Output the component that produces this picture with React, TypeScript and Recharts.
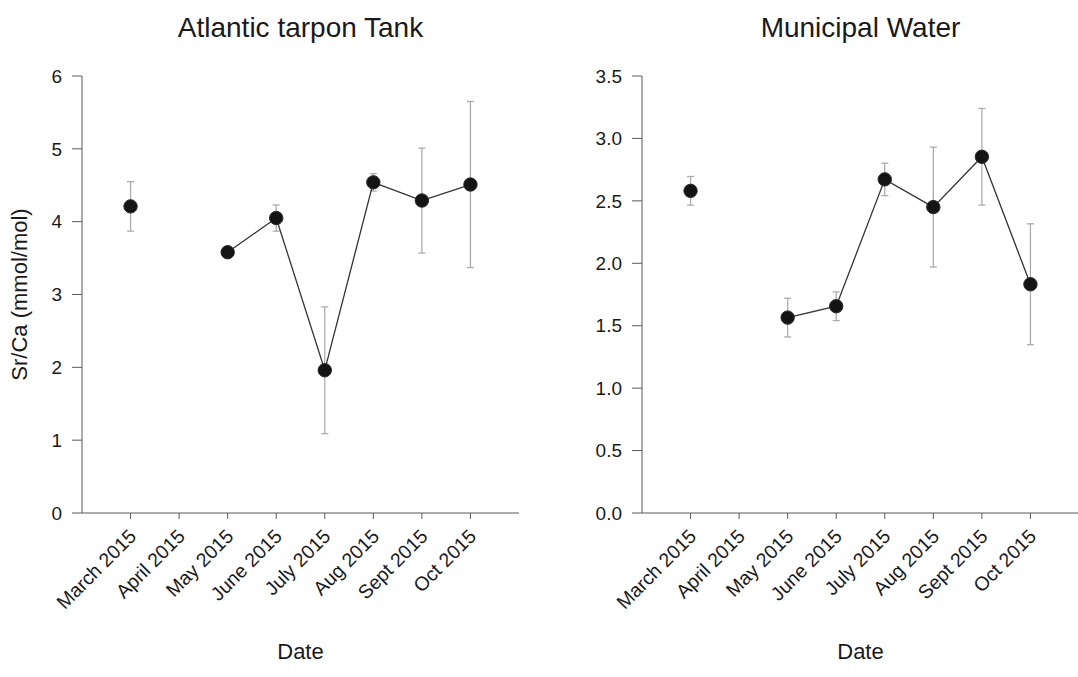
import React from 'react';
import { LineChart, Line, XAxis, YAxis, ErrorBar } from 'recharts';

// Monthly Sr/Ca means (mmol/mol) with error half-widths; April had no sample
const months = ['March 2015', 'April 2015', 'May 2015', 'June 2015', 'July 2015', 'Aug 2015', 'Sept 2015', 'Oct 2015'];

const tankMeans = [4.21, null, 3.58, 4.05, 1.96, 4.54, 4.29, 4.51];
const tankErrors = [0.34, null, 0.06, 0.18, 0.87, 0.12, 0.72, 1.14];

const waterMeans = [2.58, null, 1.565, 1.656, 2.672, 2.45, 2.853, 1.832];
const waterErrors = [0.115, null, 0.155, 0.115, 0.13, 0.48, 0.387, 0.484];

const tankTicks = [0, 1, 2, 3, 4, 5, 6];
const waterTicks = [0, 0.5, 1, 1.5, 2, 2.5, 3, 3.5];

const FONT = '"Liberation Sans", Arial, sans-serif';
const AXIS = '#5a5a5a';
const INK = '#1a1a1a';

const W = 540;
const H = 677;

const MonthTick = (props: any) => {
  const { x, y, payload } = props;
  const label = months[payload.value - 1] ?? '';
  const tx = x + 7;
  const ty = y + 16.5;
  return (
    <text
      x={tx}
      y={ty}
      transform={`rotate(-45, ${tx}, ${ty})`}
      textAnchor="end"
      fontSize={19.5}
      fontFamily={FONT}
      fill={INK}
    >
      {label}
    </text>
  );
};

interface PanelProps {
  title: string;
  means: (number | null)[];
  errors: (number | null)[];
  ticks: number[];
  decimals: number;
  left: number;
  yLabel?: string;
}

const Panel: React.FC<PanelProps> = ({ title, means, errors, ticks, decimals, left, yLabel }) => {
  const data = months.map((m, i) => ({
    pos: i + 1,
    month: m,
    value: means[i],
    err: errors[i],
  }));
  const yMax = ticks[ticks.length - 1];

  return (
    <div style={{ position: 'absolute', left, top: 0, width: W, height: H }}>
      <LineChart width={W} height={H} data={data} margin={{ top: 76, right: 21, left: 22, bottom: 64 }}>
        <XAxis
          type="number"
          dataKey="pos"
          domain={[0, 9]}
          ticks={[1, 2, 3, 4, 5, 6, 7, 8]}
          height={100}
          stroke={AXIS}
          tickSize={6}
          tick={<MonthTick />}
          interval={0}
        />
        <YAxis
          type="number"
          domain={[0, yMax]}
          ticks={ticks}
          width={60}
          stroke={AXIS}
          tickSize={10}
          tickMargin={10}
          tickFormatter={(v: number) => v.toFixed(decimals)}
          tick={{ fontSize: 19, fill: INK, fontFamily: FONT }}
          interval={0}
        />
        <Line
          type="linear"
          dataKey="value"
          stroke="#333"
          strokeWidth={1.3}
          connectNulls={false}
          dot={{ r: 6.7, fill: '#141414', stroke: '#2a2a2a', strokeWidth: 1 }}
          isAnimationActive={false}
        >
          <ErrorBar dataKey="err" width={3.5} stroke="#acacac" strokeWidth={1.3} direction="y" />
        </Line>
      </LineChart>
      <svg
        width={W}
        height={H}
        style={{ position: 'absolute', left: 0, top: 0, pointerEvents: 'none' }}
        fontFamily={FONT}
      >
        <text x={300.5} y={37} textAnchor="middle" fontSize={28} fill={INK}>
          {title}
        </text>
        <text x={300.5} y={659} textAnchor="middle" fontSize={22} fill={INK}>
          Date
        </text>
        {yLabel && (
          <text x={27} y={294.5} transform="rotate(-90, 27, 294.5)" textAnchor="middle" fontSize={22} fill={INK}>
            {yLabel}
          </text>
        )}
      </svg>
    </div>
  );
};

export default function App() {
  return (
    <div
      style={{
        position: 'fixed',
        left: 0,
        top: 0,
        width: 1078,
        height: 677,
        overflow: 'hidden',
        background: '#fff',
        fontFamily: FONT,
      }}
    >
      <Panel
        title="Atlantic tarpon Tank"
        means={tankMeans}
        errors={tankErrors}
        ticks={tankTicks}
        decimals={0}
        left={0}
        yLabel="Sr/Ca (mmol/mol)"
      />
      <Panel
        title="Municipal Water"
        means={waterMeans}
        errors={waterErrors}
        ticks={waterTicks}
        decimals={1}
        left={560}
      />
    </div>
  );
}
